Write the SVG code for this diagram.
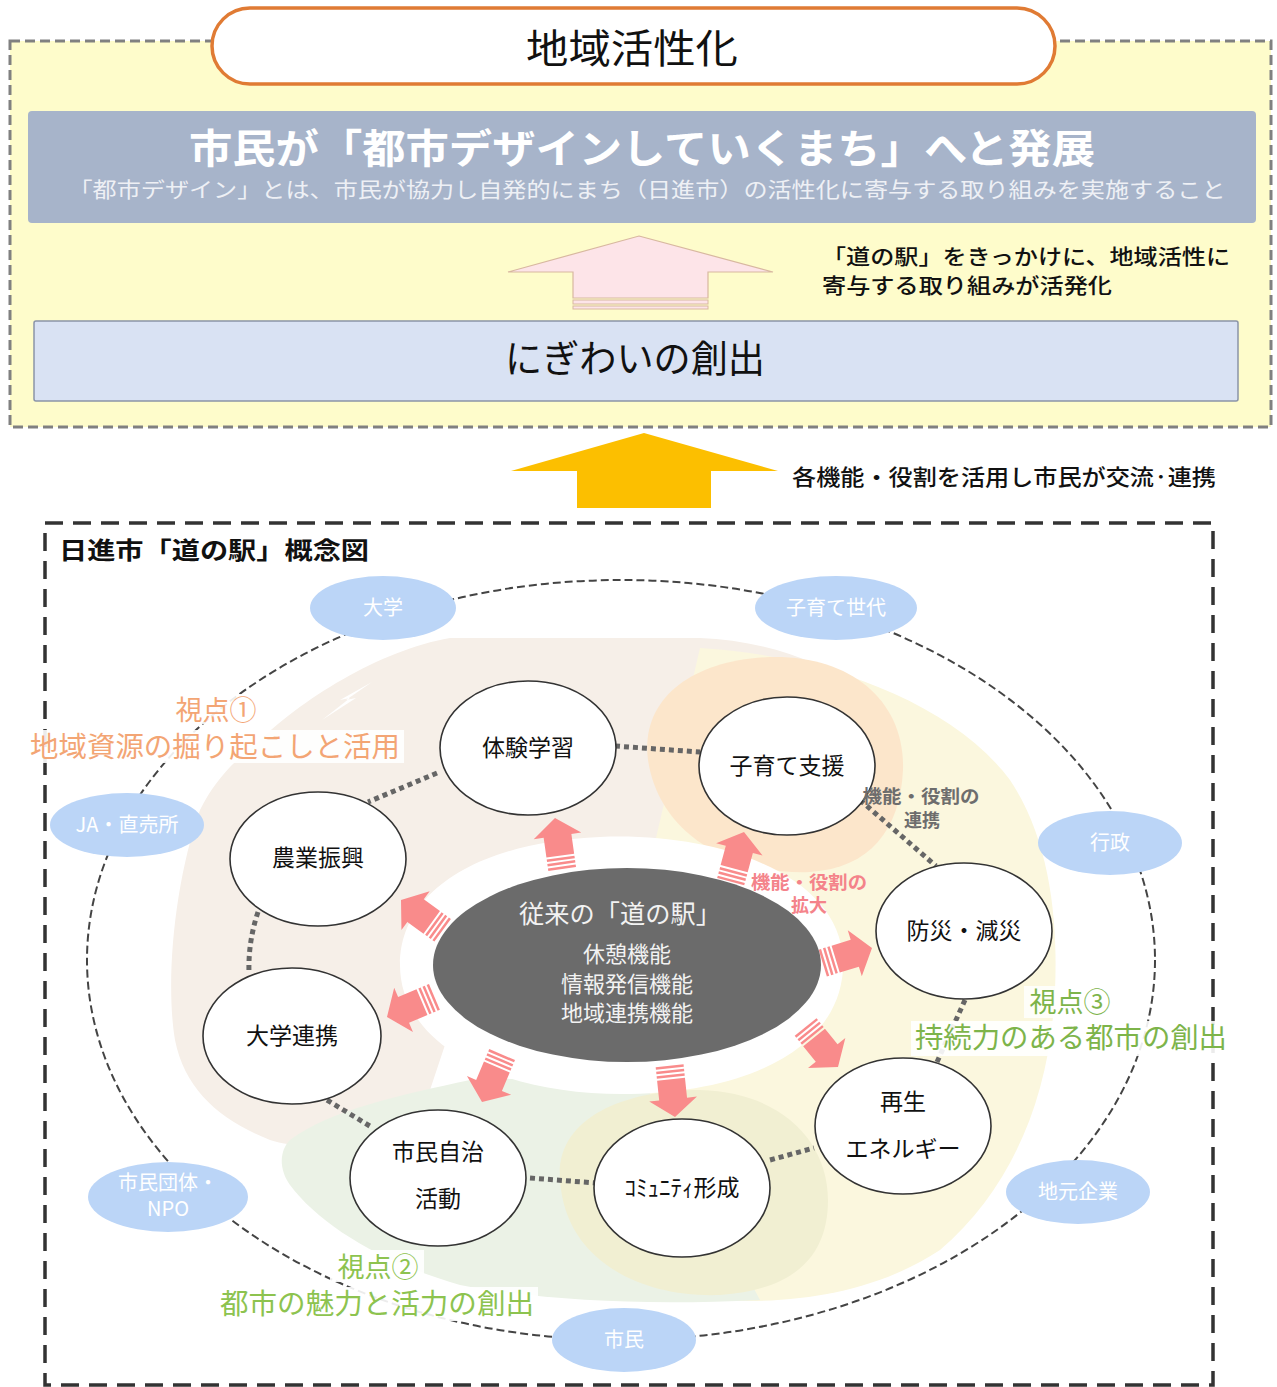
<svg xmlns="http://www.w3.org/2000/svg" width="1277" height="1387" viewBox="0 0 1277 1387">
<style>
text{font-family:"Noto Sans CJK JP","Noto Sans",sans-serif;}
.node{fill:#fff;stroke:#333;stroke-width:1.6;}
.ntx{font-size:23px;fill:#111;text-anchor:middle;}
.sat{fill:#bbd5f7;}
.stx{font-size:20px;fill:#fff;text-anchor:middle;}
.dot{fill:none;stroke:#666;stroke-width:5;stroke-dasharray:5 4;}
.ctx{font-size:22px;fill:#f2f2f2;text-anchor:middle;}
</style>
<defs>
<g id="pa">
<polygon points="0,0 24,18 14,18 14,38 -14,38 -14,18 -24,18" fill="#f98b8b"/>
<rect x="-14" y="40" width="28" height="2.5" fill="#f98b8b"/>
<rect x="-14" y="44.5" width="28" height="2.5" fill="#f98b8b"/>
<rect x="-14" y="49" width="28" height="2.5" fill="#f98b8b"/>
</g>
</defs>
<rect width="1277" height="1387" fill="#fff"/>

<!-- upper panel -->
<g id="upper-panel">
<rect x="10" y="41" width="1261" height="386" fill="#fefccb" stroke="#808080" stroke-width="3" stroke-dasharray="10 5"/>
</g>
<g id="goal">
<rect x="212" y="8" width="843" height="76" rx="38" fill="#fff" stroke="#e07b34" stroke-width="3.5"/>
<text x="632" y="63" font-size="40" text-anchor="middle" fill="#111" textLength="212" lengthAdjust="spacingAndGlyphs">地域活性化</text>
</g>
<g id="development">
<rect x="28" y="111" width="1228" height="112" rx="4" fill="#a7b4ca"/>
<text x="642" y="163" font-size="40" font-weight="bold" text-anchor="middle" fill="#fff" textLength="906" lengthAdjust="spacingAndGlyphs">市民が「都市デザインしていくまち」へと発展</text>
<text x="647" y="197" font-size="21" text-anchor="middle" fill="#eef0f5" textLength="1157" lengthAdjust="spacingAndGlyphs">「都市デザイン」とは、市民が協力し自発的にまち（日進市）の活性化に寄与する取り組みを実施すること</text>
</g>
<g id="pink-up-arrow">
<polygon points="639,236 773,272 708,272 708,298 573,298 573,272 508,272" fill="#fde4e8" stroke="#d8b8a0" stroke-width="1.2"/>
<rect x="573" y="300" width="135" height="4" fill="#fde4e8" stroke="#d8b8a0" stroke-width="1"/>
<rect x="573" y="306" width="135" height="3" fill="#fde4e8" stroke="#d8b8a0" stroke-width="1"/>
</g>
<g id="note-top">
<text x="822" y="264" font-size="21" font-weight="500" fill="#111" textLength="408" lengthAdjust="spacingAndGlyphs">「道の駅」をきっかけに、地域活性に</text>
<text x="822" y="293" font-size="21" font-weight="500" fill="#111" textLength="290" lengthAdjust="spacingAndGlyphs">寄与する取り組みが活発化</text>
</g>
<g id="nigiwai">
<rect x="34" y="321" width="1204" height="80" rx="2" fill="#d9e2f3" stroke="#8a94a8" stroke-width="1.5"/>
<text x="635" y="372" font-size="38" text-anchor="middle" fill="#111" textLength="260" lengthAdjust="spacingAndGlyphs">にぎわいの創出</text>
</g>
<g id="orange-up-arrow">
<polygon points="644,433 778,471 711,471 711,508 577,508 577,471 511,471" fill="#fcbf00"/>
<text x="792" y="485" font-size="22" font-weight="500" fill="#111" textLength="424" lengthAdjust="spacingAndGlyphs">各機能・役割を活用し市民が交流·連携</text>
</g>

<!-- lower panel -->
<g id="lower-panel">
<rect x="45" y="523" width="1168" height="862" fill="none" stroke="#333" stroke-width="3.5" stroke-dasharray="18 10"/>
<text x="59" y="559" font-size="24" font-weight="bold" fill="#111" textLength="310" lengthAdjust="spacingAndGlyphs">日進市「道の駅」概念図</text>
</g>

<g id="blobs">
<path d="M255,745 C300,700 380,650 450,638 L700,638 C760,640 820,660 860,690 L700,900 L460,1000 L420,1120 C360,1150 300,1150 270,1140 C220,1120 185,1090 175,1040 C165,980 175,880 200,810 C215,780 235,760 255,745 Z" fill="#f6efe8"/>
<path d="M700,648 C820,655 950,700 1010,780 C1050,840 1058,920 1055,990 C1050,1100 1010,1190 940,1250 C880,1290 800,1305 720,1300 L600,1080 Z" fill="#fbf7de"/>
<path d="M290,1140 C330,1110 400,1095 470,1080 L640,1075 L760,1300 C640,1306 540,1300 460,1285 C380,1262 320,1225 290,1185 C278,1168 280,1150 290,1140 Z" fill="#ebf2e6"/>
<path d="M560,1180 C555,1120 620,1090 700,1090 C780,1092 828,1140 828,1200 C828,1260 790,1290 720,1295 C640,1298 565,1260 560,1180 Z" fill="#f1efd2"/>
<path d="M648,760 C640,700 690,660 770,657 C850,655 905,700 903,770 C900,830 870,868 810,872 C740,875 660,840 648,760 Z" fill="#fce6cb"/>
<path d="M372,682 L340,700 L350,698 L322,720 L356,698 L346,700 Z" fill="#fff"/>
<path d="M400,965 C400,890 480,842 600,837 C720,832 840,875 843,960 C846,1040 760,1092 630,1094 C500,1096 400,1045 400,965 Z" fill="#fff"/>
</g>

<g id="outer-ring">
<ellipse cx="621" cy="960" rx="534" ry="380" fill="none" stroke="#444" stroke-width="2" stroke-dasharray="8 4"/>
</g>

<g id="connectors">
<path class="dot" d="M615,746 L700,752"/>
<path class="dot" d="M860,800 L936,866"/>
<path class="dot" d="M437,773 L368,802"/>
<path class="dot" d="M258,912 Q248,942 249,973"/>
<path class="dot" d="M327,1100 L373,1128"/>
<path class="dot" d="M530,1178 L596,1183"/>
<path class="dot" d="M770,1160 L814,1148"/>
<path class="dot" d="M965,1000 L937,1062"/>
</g>

<g id="center-arrows">
<use href="#pa" transform="translate(555,818) rotate(-8)"/>
<use href="#pa" transform="translate(744,832) rotate(15)"/>
<use href="#pa" transform="translate(401,900) rotate(-54)"/>
<use href="#pa" transform="translate(872,948) rotate(73)"/>
<use href="#pa" transform="translate(387,1017) rotate(-113)"/>
<use href="#pa" transform="translate(482,1102) rotate(-157)"/>
<use href="#pa" transform="translate(675,1117) rotate(174)"/>
<use href="#pa" transform="translate(838,1067) rotate(141)"/>
</g>

<g id="michi-no-eki">
<ellipse cx="627" cy="965" rx="194" ry="97" fill="#6b6b6b"/>
<text x="620" y="923" font-size="25" fill="#f2f2f2" text-anchor="middle" textLength="202" lengthAdjust="spacingAndGlyphs">従来の「道の駅」</text>
<text class="ctx" x="627" y="962">休憩機能</text>
<text class="ctx" x="627" y="992">情報発信機能</text>
<text class="ctx" x="627" y="1021">地域連携機能</text>
</g>

<g id="labels">
<rect x="170" y="694" width="94" height="30" fill="#fff" opacity="0.9"/>
<rect x="28" y="730" width="376" height="33" fill="#fff" opacity="0.9"/>
<text x="216" y="720" font-size="27" fill="#f3a574" text-anchor="middle">視点①</text>
<text x="215" y="757" font-size="28" fill="#f3a574" text-anchor="middle" textLength="370" lengthAdjust="spacingAndGlyphs">地域資源の掘り起こしと活用</text>
<rect x="330" y="1250" width="94" height="32" fill="#fff" opacity="0.9"/>
<rect x="216" y="1287" width="322" height="34" fill="#fff" opacity="0.9"/>
<text x="378" y="1277" font-size="27" fill="#8dc34f" text-anchor="middle">視点②</text>
<text x="377" y="1314" font-size="28" fill="#8dc34f" text-anchor="middle" textLength="314" lengthAdjust="spacingAndGlyphs">都市の魅力と活力の創出</text>
<rect x="1024" y="986" width="94" height="32" fill="#fff" opacity="0.8"/>
<rect x="911" y="1021" width="320" height="35" fill="#fff" opacity="0.9"/>
<text x="1070" y="1012" font-size="27" fill="#7db44a" text-anchor="middle">視点③</text>
<text x="1071" y="1048" font-size="28" fill="#7db44a" text-anchor="middle" textLength="312" lengthAdjust="spacingAndGlyphs">持続力のある都市の創出</text>
<text x="809" y="889" font-size="18" font-weight="bold" fill="#f4838a" text-anchor="middle" textLength="116" lengthAdjust="spacingAndGlyphs">機能・役割の</text>
<text x="809" y="912" font-size="18" font-weight="bold" fill="#f4838a" text-anchor="middle">拡大</text>
</g>

<g id="satellites">
<g id="s-daigaku"><ellipse class="sat" cx="383" cy="608" rx="73" ry="32"/><text class="stx" x="383" y="615">大学</text></g>
<g id="s-kosodate"><ellipse class="sat" cx="836" cy="608" rx="81" ry="32"/><text class="stx" x="836" y="615">子育て世代</text></g>
<g id="s-ja"><ellipse class="sat" cx="127" cy="825" rx="77" ry="32"/><text class="stx" x="127" y="832">JA・直売所</text></g>
<g id="s-gyosei"><ellipse class="sat" cx="1110" cy="843" rx="72" ry="32"/><text class="stx" x="1110" y="850">行政</text></g>
<g id="s-npo"><ellipse class="sat" cx="168" cy="1197" rx="80" ry="35"/><text class="stx" x="168" y="1190">市民団体・</text><text class="stx" x="168" y="1216">NPO</text></g>
<g id="s-jimoto"><ellipse class="sat" cx="1078" cy="1192" rx="72" ry="32"/><text class="stx" x="1078" y="1199">地元企業</text></g>
<g id="s-shimin"><ellipse class="sat" cx="624" cy="1340" rx="72" ry="32"/><text class="stx" x="624" y="1347">市民</text></g>
</g>

<g id="n-taiken"><ellipse class="node" cx="528" cy="748" rx="88" ry="67"/><text class="ntx" x="528" y="756">体験学習</text></g>
<g id="n-kosodate"><ellipse class="node" cx="787" cy="766" rx="88" ry="69"/><text class="ntx" x="787" y="774">子育て支援</text></g>
<text x="921" y="803" font-size="18" font-weight="bold" fill="#6d6d6d" text-anchor="middle" textLength="117" lengthAdjust="spacingAndGlyphs">機能・役割の</text>
<text x="922" y="827" font-size="18" font-weight="bold" fill="#6d6d6d" text-anchor="middle">連携</text>
<g id="n-nogyo"><ellipse class="node" cx="318" cy="859" rx="88" ry="67"/><text class="ntx" x="318" y="866">農業振興</text></g>
<g id="n-bosai"><ellipse class="node" cx="964" cy="931" rx="88" ry="68"/><text class="ntx" x="964" y="939">防災・減災</text></g>
<g id="n-daigaku"><ellipse class="node" cx="292" cy="1036" rx="89" ry="68"/><text class="ntx" x="292" y="1044">大学連携</text></g>
<g id="n-saisei"><ellipse class="node" cx="903" cy="1126" rx="88" ry="68"/><text class="ntx" x="903" y="1110">再生</text><text class="ntx" x="903" y="1157">エネルギー</text></g>
<g id="n-shimin"><ellipse class="node" cx="438" cy="1178" rx="88" ry="68"/><text class="ntx" x="438" y="1160">市民自治</text><text class="ntx" x="438" y="1207">活動</text></g>
<g id="n-community"><ellipse class="node" cx="682" cy="1188" rx="88" ry="69"/><text class="ntx" x="682" y="1196">ｺﾐｭﾆﾃｨ形成</text></g>
</svg>
